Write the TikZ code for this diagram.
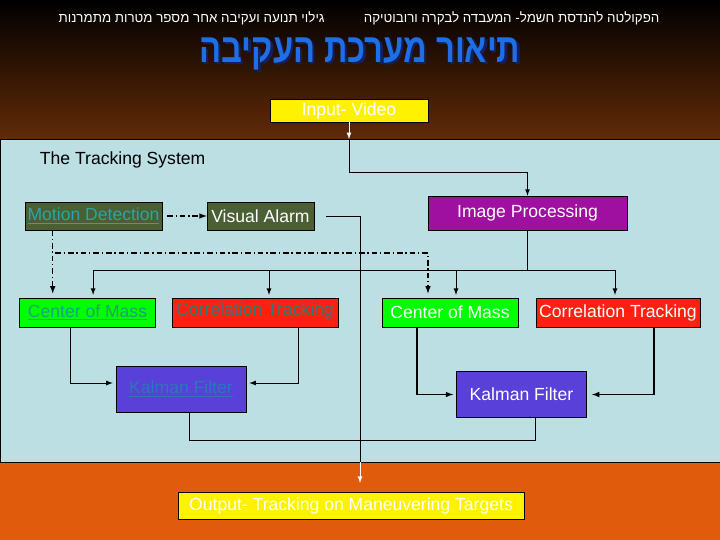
\documentclass[tikz,border=0pt]{standalone}
\usepackage{fontspec}
\setmainfont{Liberation Sans}
\newfontfamily\hebfont[Script=Hebrew]{Liberation Sans}
\newfontfamily\titlefont[Script=Hebrew,FakeStretch=0.8]{Liberation Sans}
\TeXXeTstate=1
\usepackage{tikz}
\usetikzlibrary{arrows,positioning,calc}

\definecolor{bgbrown}{RGB}{98,42,8}
\definecolor{bgorange}{RGB}{224,92,12}
\definecolor{panelblue}{RGB}{188,223,227}
\definecolor{darkgreen}{RGB}{74,96,52}
\definecolor{linkteal}{RGB}{40,165,165}
\definecolor{linkgreen}{RGB}{30,160,120}
\definecolor{linkgrey}{RGB}{56,118,122}
\definecolor{linkblue}{RGB}{40,120,184}
\definecolor{purplebox}{RGB}{160,16,160}
\definecolor{kalmanblue}{RGB}{88,64,216}
\definecolor{redbox}{RGB}{255,32,16}
\definecolor{titleblue}{RGB}{30,110,230}
\definecolor{titleshadow}{RGB}{16,32,96}

\newcommand{\boxfont}{\fontsize{12.5}{15}\selectfont}
\newcommand{\hebsmall}{\hebfont\fontsize{9.5}{11}\selectfont}
\newcommand{\titletext}{\beginR תיאור מערכת העקיבה\endR}

\begin{document}
\begin{tikzpicture}[
    box/.style={rectangle, draw, inner sep=0pt, font=\boxfont, align=center},
    yellowbox/.style={box, fill=yellow, text=white},
    darkbox/.style={box, fill=darkgreen, minimum height=0.7cm},
    greenbox/.style={box, fill=green, minimum width=3.4cm, minimum height=0.725cm},
    redstyle/.style={box, fill=redbox, minimum height=0.725cm},
    kalman/.style={box, fill=kalmanblue, minimum width=3.26cm, minimum height=1.14cm},
    arrow/.style={->, >=latex, semithick, shorten >=2pt},
    line/.style={semithick},
    whitearrow/.style={->, >=latex, semithick, white},
    dasharrow/.style={->, >=latex, thick, dash pattern=on 4pt off 2pt on 1pt off 2pt}
]
\useasboundingbox (0,0) rectangle (18,13.5);

% Background
\shade[top color=black, bottom color=bgbrown] (0,10.025) rectangle (18,13.5);
\fill[bgorange] (0,0) rectangle (18,1.95);
\draw[fill=panelblue] (0,1.95) rectangle (18,10.025);
\coordinate (paneltop) at (0,10.025);
\coordinate (drop) at (9,1.95);

% Header
\node[text=white, font=\hebsmall] (faculty) at (12.79,13.05) {\beginR הפקולטה להנדסת חשמל- המעבדה לבקרה ורובוטיקה\endR};
\node[text=white, font=\hebsmall] (project) at (4.79,13.05) {\beginR גילוי תנועה ועקיבה אחר מספר מטרות מתמרנות\endR};
\node[text=titleblue, font=\titlefont\bfseries\fontsize{29}{34}\selectfont] (title) at (9,12.12)
    {\makebox[0pt][l]{\raisebox{-1.6pt}{\hspace{1.6pt}\color{titleshadow}\titletext}}\titletext};

% Input and output
\node[yellowbox, minimum width=3.95cm, minimum height=0.575cm] (input) at (8.725,10.7375) {Input- Video};
\node[yellowbox, minimum width=8.65cm, minimum height=0.675cm] (output) at (8.775,0.8625) {Output- Tracking on Maneuvering Targets};

% The tracking system
\node[anchor=west, font=\boxfont] (system) at (0.875,9.5) {The Tracking System};
\node[darkbox, minimum width=3.425cm, text=linkteal] (motion) at (2.3375,8.1) {\underline{Motion Detection}};
\node[darkbox, minimum width=2.675cm, text=white] (alarm) at (6.5125,8.1) {Visual Alarm};
\node[box, fill=purplebox, text=white, minimum width=4.975cm, minimum height=0.85cm] (ip) at (13.1875,8.175) {Image Processing};

\node[greenbox, text=linkgreen] (com1) at (2.1875,5.6875) {\underline{Center of Mass}};
\node[redstyle, minimum width=4.15cm] (ct1) at (6.375,5.6875) {\color{linkgrey}\underline{Correlation Tracking}};
\node[greenbox, text=white] (com2) at (11.25,5.6875) {Center of Mass};
\node[redstyle, minimum width=4.1cm, text=white] (ct2) at (15.45,5.6875) {Correlation Tracking};

\node[kalman, text=linkblue] (k1) at (4.525,3.775) {\underline{Kalman Filter}};
\node[kalman, text=white] (k2) at (13.0375,3.6375) {Kalman Filter};

% Connectors
\draw[whitearrow] (input.south) -- (input.south |- paneltop) coordinate (entry);
\draw[arrow, shorten >=0pt] (entry) -- ++(0,-0.825) -| (ip.north);
\draw[dasharrow, shorten <=0.12cm] (motion) -- (alarm);
\draw[line] ([xshift=0.3cm]alarm.east) -| (drop);
\draw[whitearrow, shorten >=0.22cm] (drop) -- (drop |- output.north);

\coordinate (bus) at (0,6.75);
\foreach \t/\dx in {com1/0.14, ct1/0.35, com2/0.15, ct2/-0.075}
    \draw[arrow] (ip.south) -- (ip.south |- bus) -| ([xshift=\dx cm]\t.north);

\coordinate (mdx) at ([xshift=0.7cm]motion.south west);
\coordinate (dd) at (10.7,7.175);
\draw[dasharrow, shorten >=3pt] (mdx) -- (mdx |- com1.north);
\draw[dasharrow, shorten >=3pt] (mdx) |- (dd) -- (dd |- com2.north);

\draw[arrow] ([xshift=-0.4375cm]com1.south) |- ([yshift=0.15cm]k1.west);
\draw[arrow] ([xshift=1.075cm]ct1.south) |- ([yshift=0.15cm]k1.east);
\draw[arrow, thick] ([xshift=-0.825cm]com2.south) |- (k2.west);
\draw[arrow, thick, shorten >=0.125cm] ([xshift=0.9cm]ct2.south) |- (k2.east);

\coordinate (merge) at (9,2.5);
\draw[line] ([xshift=0.2cm]k1.south) |- (merge);
\draw[line] ([xshift=0.36cm]k2.south) |- (merge);
\end{tikzpicture}
\end{document}
